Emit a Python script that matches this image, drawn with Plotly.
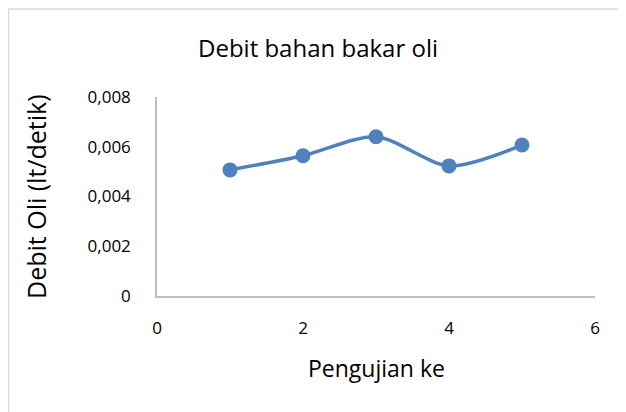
import plotly.graph_objects as go

pengujian = [1, 2, 3, 4, 5]
debit_oli = [0.00507, 0.00564, 0.0064, 0.00523, 0.00607]
x_ticks = [0, 2, 4, 6]
x_ticktext = ["0", "2", "4", "6"]
y_ticks = [0, 0.002, 0.004, 0.006, 0.008]
y_ticktext = ["0", "0,002", "0,004", "0,006", "0,008"]

OFF = 8  # default page body margin
W, H = 626 - OFF, 412 - OFF
L, T = 157 - OFF, 97 - OFF
R = W - (595 - OFF)
B = H - (296 - OFF)
pw, ph = W - L - R, H - T - B

def px_x(p):
    return (p - OFF - L) / pw

def px_y(p):
    return (H - B - (p - OFF)) / ph

font = "Open Sans, Noto Sans, sans-serif"
blue = "#4F81BD"

fig = go.Figure()
fig.add_trace(go.Scatter(
    x=pengujian, y=debit_oli, mode="lines+markers",
    line=dict(color=blue, width=3.5, shape="spline", smoothing=0.8),
    marker=dict(color=blue, size=15),
    showlegend=False,
))

fig.update_layout(
    width=W, height=H,
    margin=dict(l=L, r=R, t=T, b=B, autoexpand=False),
    paper_bgcolor="white", plot_bgcolor="white",
    font=dict(family=font, size=17, color="#000000"),
    xaxis=dict(range=[0, 6], tickvals=x_ticks, ticktext=x_ticktext,
               showgrid=False, zeroline=False, showline=True,
               linecolor="#BFBFBF", linewidth=1.5, ticks="",
               ticklabelstandoff=16),
    yaxis=dict(range=[0, 0.008], tickvals=y_ticks, ticktext=y_ticktext,
               showgrid=False, zeroline=False, showline=True,
               linecolor="#BFBFBF", linewidth=1.5, ticks="",
               ticklabelstandoff=21),
    annotations=[
        dict(text="Debit bahan bakar oli", xref="paper", yref="paper",
             x=px_x(318), y=px_y(48), xanchor="center", yanchor="middle",
             showarrow=False, font=dict(size=24)),
        dict(text="Pengujian ke", xref="paper", yref="paper",
             x=px_x(376), y=px_y(368), xanchor="center", yanchor="middle",
             showarrow=False, font=dict(size=23)),
        dict(text="Debit Oli (lt/detik)", xref="paper", yref="paper",
             x=px_x(36), y=px_y(197), xanchor="center", yanchor="middle",
             textangle=-90, showarrow=False, font=dict(size=25)),
    ],
    shapes=[dict(type="rect", xref="paper", yref="paper",
                 x0=px_x(8.5), x1=px_x(660), y0=px_y(440), y1=px_y(9),
                 line=dict(color="#D9D9D9", width=1.5), layer="below")],
)

fig.write_html("out.html")
